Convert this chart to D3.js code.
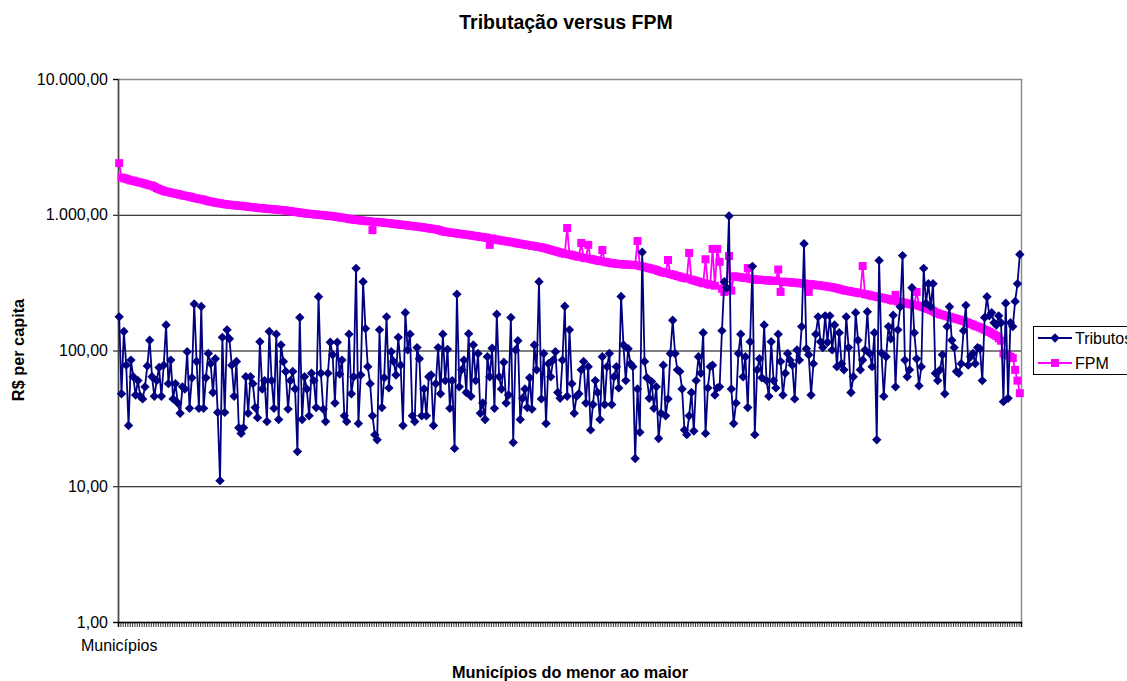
<!DOCTYPE html>
<html lang="pt-BR">
<head>
<meta charset="utf-8">
<title>Tributação versus FPM</title>
<script src="https://cdn.jsdelivr.net/npm/d3@7"></script>
<style>
  html, body { margin: 0; padding: 0; background: #fff; }
  svg { display: block; font-family: Arial, "Liberation Sans", sans-serif; }
</style>
</head>
<body>
<svg id="chart" width="1127" height="681"></svg>
<script>
/* ── Data ─────────────────────────────────────────────────────────────────── */

const TITLE = "Tributação versus FPM";
const X_TITLE = "Municípios do menor ao maior";
const Y_TITLE = "R$ per capita";
const CATEGORY_LABEL = "Municípios";
const SERIES_NAMES = ["Tributos", "FPM"];
const Y_TICKS = [1, 10, 100, 1000, 10000];

// R$ per capita, municipalities ordered from smallest to largest
const tributos = [
  177, 48, 138, 78, 28, 85, 64, 47, 60, 46,
  44, 54, 77, 119, 64, 46, 60, 75, 46, 78,
  154, 57, 85, 44, 57, 41, 34.5, 54, 52, 98,
  37.5, 63, 220, 83, 37.5, 211, 37.5, 63, 95, 80,
  49, 87, 35, 11, 125, 35, 142, 122, 78, 46,
  83, 27, 24.5, 27, 64, 34.5, 64, 57, 38, 32,
  116, 52, 60, 30, 138, 60, 37.5, 132, 31, 110,
  83, 70, 37, 60, 70, 52, 18, 175, 31, 64,
  52, 33, 68, 60, 38, 249, 68, 37, 30, 68,
  115, 93, 41, 115, 67, 85, 33, 30, 132, 48,
  64, 403, 29, 66, 321,
  145, 76, 57, 33, 24, 22, 142, 38, 63,
  177, 53, 98, 83, 66, 125, 78, 28,
  190, 101, 132, 33, 30, 105, 87, 33,
  52, 33, 64, 66, 28, 57, 105, 48,
  132, 60, 102, 37.5, 60, 19, 260, 54,
  72, 85, 49, 133, 46, 110, 60, 95,
  34.5, 41, 31, 90, 64, 104, 37.5, 185,
  64, 52, 82, 41, 47, 175, 21, 101, 118,
  31, 44.5, 52, 38, 63, 37, 110, 72,
  321, 44, 95, 29, 80, 64, 85, 98,
  49, 44.5, 85, 212, 46, 142, 57, 34.5, 46,
  48, 72, 83, 41, 76, 26, 40, 60,
  49, 31, 90, 40, 76, 95, 40, 64,
  76, 53, 250, 110, 60, 103, 80, 76,
  16, 52, 25, 530, 83, 63, 44.5, 59,
  37.5, 54, 22.5, 34.5, 78, 33, 44, 95,
  167, 95, 72, 70, 52, 26, 24,
  33, 49, 25.5, 60, 90, 68, 135,
  24.5, 53, 76, 78, 47, 53, 54,
  140, 321, 290, 980, 52, 29, 41,
  95, 132, 64, 90, 38, 116, 417,
  24, 72, 87, 63, 154, 60, 46, 116,
  60, 53, 132, 83, 47, 68, 95, 85,
  78, 44, 101, 85, 150, 612,
  103, 93, 47, 80, 132, 177, 116, 105,
  180, 115, 180, 101, 154, 76, 135, 80,
  72, 177, 105, 49, 64,
  190, 119, 72, 85, 101, 193, 95,
  76, 135, 22, 460, 96, 46, 90,
  150, 122, 182, 54, 142,
  210, 500,
  85, 64, 72, 290, 135, 87,
  55, 76, 403, 223, 310, 210, 310, 68,
  60, 72, 93, 48, 150, 210, 119,
  105, 70, 68, 80, 140, 215, 78,
  90, 95, 80, 105, 103, 60, 175,
  249, 180, 190, 160, 154, 180,
  160, 42, 223, 44.5, 160, 150, 230, 310,
  510,
];

const fpm = [
  2400, 1880, 1860, 1840, 1815, 1790, 1780, 1760, 1745, 1725,
  1710, 1690, 1670, 1650, 1640, 1610, 1570, 1545, 1520, 1500,
  1480, 1470, 1455, 1445, 1430, 1420, 1405, 1390, 1380, 1370,
  1360, 1345, 1330, 1320, 1310, 1300, 1290, 1275, 1260, 1250,
  1240, 1230, 1222, 1215, 1205, 1198, 1190, 1185, 1180, 1175,
  1170, 1166, 1162, 1158, 1152, 1146, 1140, 1135, 1130, 1125,
  1120, 1116, 1112, 1108, 1104, 1100, 1096, 1092, 1088, 1084,
  1080, 1074, 1068, 1062, 1056, 1050, 1044, 1038, 1032, 1026,
  1020, 1016, 1012, 1008, 1004, 1000, 996, 992, 988, 984,
  980, 975, 970, 964, 958, 952, 946, 940, 933, 926,
  920, 916, 912, 908, 904, 900, 897, 893, 770, 888,
  885, 882, 878, 874, 870, 866, 862, 858, 854, 849,
  845, 842, 838, 834, 830, 826, 822, 818, 814, 810,
  805, 800, 795, 790, 786, 782, 775, 765, 755, 750,
  745, 741, 737, 733, 729, 725, 721, 717, 713, 709,
  705, 700, 696, 692, 688, 684, 680, 676, 600, 668,
  660, 655, 650, 646, 642, 638, 634, 630, 625, 620,
  615, 611, 607, 603, 599, 595, 591, 587, 583, 579,
  575, 570, 565, 558, 551, 545, 539, 533, 527, 521,
  515, 798, 510, 505, 500, 495, 490, 620, 482, 478,
  600, 472, 468, 464, 460, 456, 550, 450, 446, 443,
  440, 438, 436, 434, 432, 431, 430, 429, 428, 427,
  425, 641, 420, 416, 412, 408, 404, 400, 396, 392,
  385, 380, 376, 372, 464, 366, 362, 358, 354, 350,
  345, 342, 339, 523, 333, 329, 325, 321, 317, 313,
  470, 308, 305, 560, 300, 560, 450, 285, 270, 279,
  497, 276, 352, 350, 348, 346, 344, 342, 405, 338,
  335, 334, 333, 332, 331, 330, 329, 328, 327, 326,
  325, 395, 270, 322, 320, 319, 318, 317, 316, 315,
  313, 312, 311, 310, 270, 308, 306, 304, 302, 301,
  300, 298, 296, 294, 292, 290, 287, 284, 281, 278,
  276, 274, 272, 270, 268, 266, 264, 419, 260, 258,
  255, 253, 251, 249, 247, 245, 243, 241, 239, 236,
  233, 257, 230, 228, 226, 224, 222, 220, 218, 217,
  270, 214, 211, 208, 205, 202, 199, 195, 191, 188,
  185, 183, 181, 179, 177, 175, 173, 171, 169, 167,
  165, 162, 160, 157, 155, 152, 150, 148, 145, 142,
  140, 137, 134, 131, 128, 123, 118, 95, 93, 92,
  90, 88, 72, 60, 48.5,
];

/* ── Style ────────────────────────────────────────────────────────────────── */

const COLORS = { Tributos: "#000080", FPM: "#ff00ff" };
const PLOT = { left: 118, right: 1021, top: 79, bottom: 622 };

const ptBR = d3.formatLocale({
  decimal: ",",
  thousands: ".",
  grouping: [3],
  currency: ["R$", ""],
});
const fmt = ptBR.format(",.2f");

/* ── Chart ────────────────────────────────────────────────────────────────── */

const svg = d3.select("#chart");
const N = Math.min(tributos.length, fpm.length);

const x = d3.scaleLinear().domain([0, N]).range([PLOT.left, PLOT.right]);
const y = d3.scaleLog().domain([1, 10000]).range([PLOT.bottom, PLOT.top]);
const cx = (i) => x(i + 0.5);

// Gridlines
const grid = svg
  .append("g")
  .attr("transform", `translate(${PLOT.left},0)`)
  .call(
    d3.axisLeft(y)
      .tickValues(Y_TICKS.slice(1, -1))
      .tickSize(-(PLOT.right - PLOT.left))
      .tickFormat(""),
  );
grid.select(".domain").remove();
grid.selectAll("line").attr("stroke", "#000").attr("stroke-width", 1);

// Plot area border
svg
  .append("rect")
  .attr("x", PLOT.left + 0.5)
  .attr("y", PLOT.top + 0.5)
  .attr("width", PLOT.right - PLOT.left)
  .attr("height", PLOT.bottom - PLOT.top)
  .attr("fill", "none")
  .attr("stroke", "#8c8c8c")
  .attr("stroke-width", 1.5);

// Y axis
const yAxis = svg
  .append("g")
  .attr("transform", `translate(${PLOT.left},0)`)
  .call(
    d3.axisLeft(y).tickValues(Y_TICKS).tickFormat(fmt).tickSize(5).tickPadding(5),
  );
yAxis.select(".domain").attr("stroke", "#444").attr("stroke-width", 1.5);
yAxis.selectAll("line").attr("stroke", "#000");
yAxis
  .selectAll("text")
  .attr("font-size", 16)
  .attr("font-family", "Arial, 'Liberation Sans', sans-serif")
  .attr("fill", "#000");

// X axis (one tick per municipality boundary)
const xAxis = svg
  .append("g")
  .attr("transform", `translate(0,${PLOT.bottom})`)
  .call(
    d3.axisBottom(x).tickValues(d3.range(N + 1)).tickFormat("").tickSize(5),
  );
xAxis.select(".domain").attr("stroke", "#000").attr("stroke-width", 1.5);
xAxis.selectAll("line").attr("stroke", "#000").attr("stroke-width", 0.8);

svg
  .append("text")
  .attr("x", cx(0))
  .attr("y", 651)
  .attr("text-anchor", "middle")
  .attr("font-size", 16)
  .text(CATEGORY_LABEL);

// Series
const line = d3
  .line()
  .x((_, i) => cx(i))
  .y((d) => y(d));

const diamond = d3.symbol(d3.symbolSquare, 44);
const square = d3.symbol(d3.symbolSquare, 64);

function drawSeries(values, color, symbol, rotate) {
  const g = svg.append("g");
  g.append("path")
    .datum(values.slice(0, N))
    .attr("d", line)
    .attr("fill", "none")
    .attr("stroke", color)
    .attr("stroke-width", 1.8)
    .attr("stroke-linejoin", "round");
  g.selectAll("path.mark")
    .data(values.slice(0, N))
    .enter()
    .append("path")
    .attr("class", "mark")
    .attr("d", symbol)
    .attr("fill", color)
    .attr(
      "transform",
      (d, i) => `translate(${cx(i)},${y(d)})${rotate ? " rotate(45)" : ""}`,
    );
}

drawSeries(fpm, COLORS.FPM, square, false);
drawSeries(tributos, COLORS.Tributos, diamond, true);

/* ── Titles ───────────────────────────────────────────────────────────────── */

svg
  .append("text")
  .attr("x", 566)
  .attr("y", 29)
  .attr("text-anchor", "middle")
  .attr("font-size", 19.5)
  .attr("font-weight", "bold")
  .text(TITLE);

svg
  .append("text")
  .attr("x", 570)
  .attr("y", 678)
  .attr("text-anchor", "middle")
  .attr("font-size", 16.3)
  .attr("font-weight", "bold")
  .text(X_TITLE);

svg
  .append("text")
  .attr("transform", "translate(24,350) rotate(-90)")
  .attr("text-anchor", "middle")
  .attr("font-size", 16.3)
  .attr("font-weight", "bold")
  .text(Y_TITLE);

/* ── Legend ───────────────────────────────────────────────────────────────── */

const legend = svg.append("g");
legend
  .append("rect")
  .attr("x", 1033.5)
  .attr("y", 326.5)
  .attr("width", 120)
  .attr("height", 48)
  .attr("fill", "#fff")
  .attr("stroke", "#000")
  .attr("stroke-width", 1);

SERIES_NAMES.forEach((name, k) => {
  const ly = 338 + k * 25;
  legend
    .append("line")
    .attr("x1", 1038)
    .attr("x2", 1072)
    .attr("y1", ly)
    .attr("y2", ly)
    .attr("stroke", COLORS[name])
    .attr("stroke-width", 1.8);
  legend
    .append("path")
    .attr("d", k === 0 ? diamond() : square())
    .attr("fill", COLORS[name])
    .attr("transform", `translate(1055,${ly})${k === 0 ? " rotate(45)" : ""}`);
  legend
    .append("text")
    .attr("x", 1075)
    .attr("y", ly)
    .attr("dy", "0.36em")
    .attr("font-size", 16)
    .text(name);
});
</script>
</body>
</html>
